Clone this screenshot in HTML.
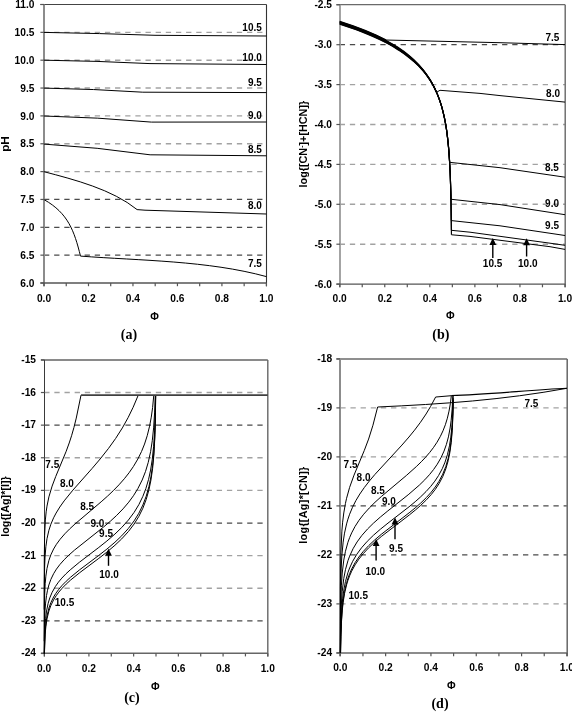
<!DOCTYPE html>
<html><head><meta charset="utf-8"><title>figure</title><style>html,body{margin:0;padding:0;background:#fff;overflow:hidden;}svg{display:block;filter:grayscale(1);}</style></head>
<body><svg width="572" height="712" viewBox="0 0 572 712">
<rect width="572" height="712" fill="#fff"/>
<line x1="44.00" y1="255.15" x2="266.40" y2="255.15" stroke="#4a4a4a" stroke-width="1.25" stroke-dasharray="5.3,4.85"/>
<line x1="44.00" y1="227.30" x2="266.40" y2="227.30" stroke="#4a4a4a" stroke-width="1.25" stroke-dasharray="5.3,4.85"/>
<line x1="44.00" y1="199.45" x2="266.40" y2="199.45" stroke="#4a4a4a" stroke-width="1.25" stroke-dasharray="5.3,4.85"/>
<line x1="44.00" y1="171.60" x2="266.40" y2="171.60" stroke="#a2a2a2" stroke-width="1.4" stroke-dasharray="5.3,4.85"/>
<line x1="44.00" y1="143.75" x2="266.40" y2="143.75" stroke="#a2a2a2" stroke-width="1.4" stroke-dasharray="5.3,4.85"/>
<line x1="44.00" y1="115.90" x2="266.40" y2="115.90" stroke="#a2a2a2" stroke-width="1.4" stroke-dasharray="5.3,4.85"/>
<line x1="44.00" y1="88.05" x2="266.40" y2="88.05" stroke="#a2a2a2" stroke-width="1.4" stroke-dasharray="5.3,4.85"/>
<line x1="44.00" y1="60.20" x2="266.40" y2="60.20" stroke="#a2a2a2" stroke-width="1.4" stroke-dasharray="5.3,4.85"/>
<line x1="44.00" y1="32.35" x2="266.40" y2="32.35" stroke="#a2a2a2" stroke-width="1.4" stroke-dasharray="5.3,4.85"/>
<line x1="339.70" y1="244.20" x2="565.00" y2="244.20" stroke="#a2a2a2" stroke-width="1.4" stroke-dasharray="5.3,4.85"/>
<line x1="339.70" y1="204.30" x2="565.00" y2="204.30" stroke="#a2a2a2" stroke-width="1.4" stroke-dasharray="5.3,4.85"/>
<line x1="339.70" y1="164.40" x2="565.00" y2="164.40" stroke="#a2a2a2" stroke-width="1.4" stroke-dasharray="5.3,4.85"/>
<line x1="339.70" y1="124.50" x2="565.00" y2="124.50" stroke="#a2a2a2" stroke-width="1.4" stroke-dasharray="5.3,4.85"/>
<line x1="339.70" y1="84.60" x2="565.00" y2="84.60" stroke="#a2a2a2" stroke-width="1.4" stroke-dasharray="5.3,4.85"/>
<line x1="339.70" y1="44.70" x2="565.00" y2="44.70" stroke="#4a4a4a" stroke-width="1.25" stroke-dasharray="5.3,4.85"/>
<line x1="44.20" y1="620.86" x2="267.80" y2="620.86" stroke="#4a4a4a" stroke-width="1.25" stroke-dasharray="5.3,4.85"/>
<line x1="44.20" y1="588.24" x2="267.80" y2="588.24" stroke="#a2a2a2" stroke-width="1.4" stroke-dasharray="5.3,4.85"/>
<line x1="44.20" y1="555.62" x2="267.80" y2="555.62" stroke="#a2a2a2" stroke-width="1.4" stroke-dasharray="5.3,4.85"/>
<line x1="44.20" y1="523.00" x2="267.80" y2="523.00" stroke="#4a4a4a" stroke-width="1.25" stroke-dasharray="5.3,4.85"/>
<line x1="44.20" y1="490.38" x2="267.80" y2="490.38" stroke="#a2a2a2" stroke-width="1.4" stroke-dasharray="5.3,4.85"/>
<line x1="44.20" y1="457.76" x2="267.80" y2="457.76" stroke="#a2a2a2" stroke-width="1.4" stroke-dasharray="5.3,4.85"/>
<line x1="44.20" y1="425.14" x2="267.80" y2="425.14" stroke="#4a4a4a" stroke-width="1.25" stroke-dasharray="5.3,4.85"/>
<line x1="44.20" y1="392.52" x2="267.80" y2="392.52" stroke="#a2a2a2" stroke-width="1.4" stroke-dasharray="5.3,4.85"/>
<line x1="340.30" y1="603.90" x2="566.90" y2="603.90" stroke="#a2a2a2" stroke-width="1.4" stroke-dasharray="5.3,4.85"/>
<line x1="340.30" y1="554.90" x2="566.90" y2="554.90" stroke="#4a4a4a" stroke-width="1.25" stroke-dasharray="5.3,4.85"/>
<line x1="340.30" y1="505.90" x2="566.90" y2="505.90" stroke="#4a4a4a" stroke-width="1.25" stroke-dasharray="5.3,4.85"/>
<line x1="340.30" y1="456.90" x2="566.90" y2="456.90" stroke="#a2a2a2" stroke-width="1.4" stroke-dasharray="5.3,4.85"/>
<line x1="340.30" y1="407.90" x2="566.90" y2="407.90" stroke="#a2a2a2" stroke-width="1.4" stroke-dasharray="5.3,4.85"/>
<line x1="40.40" y1="4.50" x2="266.50" y2="4.50" stroke="#444" stroke-width="1.1" />
<line x1="266.50" y1="4.50" x2="266.50" y2="286.20" stroke="#333" stroke-width="1.1" />
<line x1="44.00" y1="4.50" x2="44.00" y2="286.20" stroke="#8c8c8c" stroke-width="2.0" />
<line x1="40.40" y1="283.00" x2="266.50" y2="283.00" stroke="#555" stroke-width="1.4" />
<line x1="40.40" y1="283.00" x2="44.00" y2="283.00" stroke="#555" stroke-width="1.2" />
<line x1="40.40" y1="255.15" x2="44.00" y2="255.15" stroke="#555" stroke-width="1.2" />
<line x1="40.40" y1="227.30" x2="44.00" y2="227.30" stroke="#555" stroke-width="1.2" />
<line x1="40.40" y1="199.45" x2="44.00" y2="199.45" stroke="#555" stroke-width="1.2" />
<line x1="40.40" y1="171.60" x2="44.00" y2="171.60" stroke="#555" stroke-width="1.2" />
<line x1="40.40" y1="143.75" x2="44.00" y2="143.75" stroke="#555" stroke-width="1.2" />
<line x1="40.40" y1="115.90" x2="44.00" y2="115.90" stroke="#555" stroke-width="1.2" />
<line x1="40.40" y1="88.05" x2="44.00" y2="88.05" stroke="#555" stroke-width="1.2" />
<line x1="40.40" y1="60.20" x2="44.00" y2="60.20" stroke="#555" stroke-width="1.2" />
<line x1="40.40" y1="32.35" x2="44.00" y2="32.35" stroke="#555" stroke-width="1.2" />
<line x1="40.40" y1="4.50" x2="44.00" y2="4.50" stroke="#555" stroke-width="1.2" />
<line x1="44.00" y1="283.00" x2="44.00" y2="286.20" stroke="#555" stroke-width="1.2" />
<line x1="66.24" y1="283.00" x2="66.24" y2="286.20" stroke="#555" stroke-width="1.2" />
<line x1="88.48" y1="283.00" x2="88.48" y2="286.20" stroke="#555" stroke-width="1.2" />
<line x1="110.72" y1="283.00" x2="110.72" y2="286.20" stroke="#555" stroke-width="1.2" />
<line x1="132.96" y1="283.00" x2="132.96" y2="286.20" stroke="#555" stroke-width="1.2" />
<line x1="155.20" y1="283.00" x2="155.20" y2="286.20" stroke="#555" stroke-width="1.2" />
<line x1="177.44" y1="283.00" x2="177.44" y2="286.20" stroke="#555" stroke-width="1.2" />
<line x1="199.68" y1="283.00" x2="199.68" y2="286.20" stroke="#555" stroke-width="1.2" />
<line x1="221.92" y1="283.00" x2="221.92" y2="286.20" stroke="#555" stroke-width="1.2" />
<line x1="244.16" y1="283.00" x2="244.16" y2="286.20" stroke="#555" stroke-width="1.2" />
<line x1="266.40" y1="283.00" x2="266.40" y2="286.20" stroke="#555" stroke-width="1.2" />
<line x1="336.40" y1="4.70" x2="565.20" y2="4.70" stroke="#6a6a6a" stroke-width="1.3" />
<line x1="565.20" y1="4.70" x2="565.20" y2="287.30" stroke="#666" stroke-width="1.4" />
<line x1="340.00" y1="4.70" x2="340.00" y2="287.30" stroke="#9a9a9a" stroke-width="1.8" />
<line x1="336.40" y1="284.10" x2="565.20" y2="284.10" stroke="#555" stroke-width="1.3" />
<line x1="336.40" y1="284.10" x2="340.00" y2="284.10" stroke="#555" stroke-width="1.2" />
<line x1="336.40" y1="244.20" x2="340.00" y2="244.20" stroke="#555" stroke-width="1.2" />
<line x1="336.40" y1="204.30" x2="340.00" y2="204.30" stroke="#555" stroke-width="1.2" />
<line x1="336.40" y1="164.40" x2="340.00" y2="164.40" stroke="#555" stroke-width="1.2" />
<line x1="336.40" y1="124.50" x2="340.00" y2="124.50" stroke="#555" stroke-width="1.2" />
<line x1="336.40" y1="84.60" x2="340.00" y2="84.60" stroke="#555" stroke-width="1.2" />
<line x1="336.40" y1="44.70" x2="340.00" y2="44.70" stroke="#555" stroke-width="1.2" />
<line x1="336.40" y1="4.80" x2="340.00" y2="4.80" stroke="#555" stroke-width="1.2" />
<line x1="339.70" y1="284.10" x2="339.70" y2="287.30" stroke="#555" stroke-width="1.2" />
<line x1="362.23" y1="284.10" x2="362.23" y2="287.30" stroke="#555" stroke-width="1.2" />
<line x1="384.76" y1="284.10" x2="384.76" y2="287.30" stroke="#555" stroke-width="1.2" />
<line x1="407.29" y1="284.10" x2="407.29" y2="287.30" stroke="#555" stroke-width="1.2" />
<line x1="429.82" y1="284.10" x2="429.82" y2="287.30" stroke="#555" stroke-width="1.2" />
<line x1="452.35" y1="284.10" x2="452.35" y2="287.30" stroke="#555" stroke-width="1.2" />
<line x1="474.88" y1="284.10" x2="474.88" y2="287.30" stroke="#555" stroke-width="1.2" />
<line x1="497.41" y1="284.10" x2="497.41" y2="287.30" stroke="#555" stroke-width="1.2" />
<line x1="519.94" y1="284.10" x2="519.94" y2="287.30" stroke="#555" stroke-width="1.2" />
<line x1="542.47" y1="284.10" x2="542.47" y2="287.30" stroke="#555" stroke-width="1.2" />
<line x1="565.00" y1="284.10" x2="565.00" y2="287.30" stroke="#555" stroke-width="1.2" />
<line x1="40.90" y1="360.00" x2="267.80" y2="360.00" stroke="#8a8a8a" stroke-width="1.8" />
<line x1="267.80" y1="360.00" x2="267.80" y2="656.40" stroke="#666" stroke-width="1.4" />
<line x1="44.50" y1="360.00" x2="44.50" y2="656.40" stroke="#3a3a3a" stroke-width="1.0" />
<line x1="40.90" y1="653.20" x2="267.80" y2="653.20" stroke="#666" stroke-width="1.4" />
<line x1="40.90" y1="653.48" x2="44.50" y2="653.48" stroke="#555" stroke-width="1.2" />
<line x1="40.90" y1="620.86" x2="44.50" y2="620.86" stroke="#555" stroke-width="1.2" />
<line x1="40.90" y1="588.24" x2="44.50" y2="588.24" stroke="#555" stroke-width="1.2" />
<line x1="40.90" y1="555.62" x2="44.50" y2="555.62" stroke="#555" stroke-width="1.2" />
<line x1="40.90" y1="523.00" x2="44.50" y2="523.00" stroke="#555" stroke-width="1.2" />
<line x1="40.90" y1="490.38" x2="44.50" y2="490.38" stroke="#555" stroke-width="1.2" />
<line x1="40.90" y1="457.76" x2="44.50" y2="457.76" stroke="#555" stroke-width="1.2" />
<line x1="40.90" y1="425.14" x2="44.50" y2="425.14" stroke="#555" stroke-width="1.2" />
<line x1="40.90" y1="392.52" x2="44.50" y2="392.52" stroke="#555" stroke-width="1.2" />
<line x1="40.90" y1="359.90" x2="44.50" y2="359.90" stroke="#555" stroke-width="1.2" />
<line x1="44.20" y1="653.20" x2="44.20" y2="656.40" stroke="#555" stroke-width="1.2" />
<line x1="66.56" y1="653.20" x2="66.56" y2="656.40" stroke="#555" stroke-width="1.2" />
<line x1="88.92" y1="653.20" x2="88.92" y2="656.40" stroke="#555" stroke-width="1.2" />
<line x1="111.28" y1="653.20" x2="111.28" y2="656.40" stroke="#555" stroke-width="1.2" />
<line x1="133.64" y1="653.20" x2="133.64" y2="656.40" stroke="#555" stroke-width="1.2" />
<line x1="156.00" y1="653.20" x2="156.00" y2="656.40" stroke="#555" stroke-width="1.2" />
<line x1="178.36" y1="653.20" x2="178.36" y2="656.40" stroke="#555" stroke-width="1.2" />
<line x1="200.72" y1="653.20" x2="200.72" y2="656.40" stroke="#555" stroke-width="1.2" />
<line x1="223.08" y1="653.20" x2="223.08" y2="656.40" stroke="#555" stroke-width="1.2" />
<line x1="245.44" y1="653.20" x2="245.44" y2="656.40" stroke="#555" stroke-width="1.2" />
<line x1="267.80" y1="653.20" x2="267.80" y2="656.40" stroke="#555" stroke-width="1.2" />
<line x1="336.40" y1="359.00" x2="567.20" y2="359.00" stroke="#6a6a6a" stroke-width="1.3" />
<line x1="567.20" y1="359.00" x2="567.20" y2="656.30" stroke="#666" stroke-width="1.5" />
<line x1="340.00" y1="359.00" x2="340.00" y2="656.30" stroke="#8c8c8c" stroke-width="2.0" />
<line x1="336.40" y1="653.10" x2="567.20" y2="653.10" stroke="#666" stroke-width="1.5" />
<line x1="336.40" y1="652.90" x2="340.00" y2="652.90" stroke="#555" stroke-width="1.2" />
<line x1="336.40" y1="603.90" x2="340.00" y2="603.90" stroke="#555" stroke-width="1.2" />
<line x1="336.40" y1="554.90" x2="340.00" y2="554.90" stroke="#555" stroke-width="1.2" />
<line x1="336.40" y1="505.90" x2="340.00" y2="505.90" stroke="#555" stroke-width="1.2" />
<line x1="336.40" y1="456.90" x2="340.00" y2="456.90" stroke="#555" stroke-width="1.2" />
<line x1="336.40" y1="407.90" x2="340.00" y2="407.90" stroke="#555" stroke-width="1.2" />
<line x1="336.40" y1="358.90" x2="340.00" y2="358.90" stroke="#555" stroke-width="1.2" />
<line x1="340.30" y1="653.10" x2="340.30" y2="656.30" stroke="#555" stroke-width="1.2" />
<line x1="362.96" y1="653.10" x2="362.96" y2="656.30" stroke="#555" stroke-width="1.2" />
<line x1="385.62" y1="653.10" x2="385.62" y2="656.30" stroke="#555" stroke-width="1.2" />
<line x1="408.28" y1="653.10" x2="408.28" y2="656.30" stroke="#555" stroke-width="1.2" />
<line x1="430.94" y1="653.10" x2="430.94" y2="656.30" stroke="#555" stroke-width="1.2" />
<line x1="453.60" y1="653.10" x2="453.60" y2="656.30" stroke="#555" stroke-width="1.2" />
<line x1="476.26" y1="653.10" x2="476.26" y2="656.30" stroke="#555" stroke-width="1.2" />
<line x1="498.92" y1="653.10" x2="498.92" y2="656.30" stroke="#555" stroke-width="1.2" />
<line x1="521.58" y1="653.10" x2="521.58" y2="656.30" stroke="#555" stroke-width="1.2" />
<line x1="544.24" y1="653.10" x2="544.24" y2="656.30" stroke="#555" stroke-width="1.2" />
<line x1="566.90" y1="653.10" x2="566.90" y2="656.30" stroke="#555" stroke-width="1.2" />
<path d="M44.00,32.40 Q99.51,33.32 155.00,35.30 L266.40,36.00" fill="none" stroke="#000" stroke-width="1.0" stroke-linejoin="round"/>
<path d="M44.00,60.20 Q97.03,60.91 150.00,63.60 L266.40,64.50" fill="none" stroke="#000" stroke-width="1.0" stroke-linejoin="round"/>
<path d="M44.00,88.10 Q93.45,88.92 142.80,92.20 L266.40,92.60" fill="none" stroke="#000" stroke-width="1.0" stroke-linejoin="round"/>
<path d="M44.00,116.00 Q97.80,117.29 151.40,122.10 L266.40,122.00" fill="none" stroke="#000" stroke-width="1.0" stroke-linejoin="round"/>
<path d="M44.00,144.10 Q97.28,147.17 150.10,154.80 L266.40,155.80" fill="none" stroke="#000" stroke-width="1.0" stroke-linejoin="round"/>
<path d="M44.00,171.70 C74.48,179.70 112.18,189.37 137.10,209.60 L145.00,210.20 L266.40,214.00" fill="none" stroke="#000" stroke-width="1.0" stroke-linejoin="round"/>
<path d="M44.20,199.70 C68.14,213.22 74.25,230.96 80.50,256.10 C139.90,260.65 207.94,260.55 266.40,276.60" fill="none" stroke="#000" stroke-width="1.0" stroke-linejoin="round"/>
<path d="M339.70,21.40 L353.12,25.82 L364.97,30.26 L376.03,34.99 L386.29,40.04" fill="none" stroke="#000" stroke-width="1.15" stroke-linejoin="round"/>
<path d="M386.29,40.04 L500.00,42.70 L565.00,44.60" fill="none" stroke="#000" stroke-width="1.0" stroke-linejoin="round"/>
<path d="M339.70,21.88 L349.55,25.07 L359.41,28.59 L367.62,31.82 L375.83,35.38 L384.04,39.35 L390.61,42.89 L397.18,46.84 L403.75,51.29 L408.68,55.09 L413.61,59.45 L418.54,64.39 L423.46,70.11 L426.75,74.49 L430.03,79.48 L433.32,85.28 L436.60,92.21" fill="none" stroke="#000" stroke-width="1.15" stroke-linejoin="round"/>
<path d="M436.60,92.21 L440.00,90.30 L480.00,93.40 L500.00,95.60 L565.00,102.10" fill="none" stroke="#000" stroke-width="1.0" stroke-linejoin="round"/>
<path d="M339.70,22.36 L354.07,27.11 L368.43,32.63 L379.93,37.78 L391.42,43.83 L397.17,47.31 L401.48,50.16 L405.79,53.27 L410.10,56.73 L417.28,63.41 L421.59,68.11 L424.47,71.63 L427.34,75.54 L430.21,79.93 L434.52,87.76 L437.40,94.16 L438.83,97.85 L441.85,107.16 L444.63,118.68 L446.65,130.42 L448.43,145.59 L449.67,162.33" fill="none" stroke="#000" stroke-width="1.15" stroke-linejoin="round"/>
<path d="M449.67,162.33 L500.00,167.70 L565.00,177.20" fill="none" stroke="#000" stroke-width="1.0" stroke-linejoin="round"/>
<path d="M339.70,22.83 L356.94,28.63 L371.31,34.33 L378.49,37.57 L385.67,41.15 L391.42,44.31 L397.17,47.79 L402.91,51.65 L407.22,54.85 L411.53,58.39 L415.84,62.33 L420.15,66.77 L423.03,70.08 L427.34,75.73 L430.21,80.09 L433.09,85.07 L435.96,90.89 L439.81,100.63 L441.74,106.79 L443.14,112.05 L445.74,124.62 L446.89,132.11 L447.93,140.59 L449.36,157.23 L450.36,176.88 L450.99,199.27" fill="none" stroke="#000" stroke-width="1.15" stroke-linejoin="round"/>
<path d="M450.99,199.27 L500.00,204.60 L565.00,214.70" fill="none" stroke="#000" stroke-width="1.0" stroke-linejoin="round"/>
<path d="M339.70,23.31 L356.94,29.11 L365.56,32.41 L372.74,35.43 L379.93,38.74 L387.11,42.40 L392.86,45.63 L398.60,49.19 L404.35,53.16 L408.66,56.45 L412.97,60.05 L417.28,64.08 L421.59,68.66 L424.47,72.10 L428.78,78.02 L431.65,82.62 L434.52,87.95 L437.40,94.26 L440.83,103.76 L442.78,110.62 L444.18,116.54 L445.50,123.25 L446.72,130.88 L448.49,146.23 L449.87,165.97 L450.81,191.39 L451.30,220.58" fill="none" stroke="#000" stroke-width="1.15" stroke-linejoin="round"/>
<path d="M451.30,220.58 L500.00,225.80 L565.00,235.50" fill="none" stroke="#000" stroke-width="1.0" stroke-linejoin="round"/>
<path d="M339.70,23.79 L356.94,29.59 L365.56,32.89 L372.74,35.91 L379.93,39.22 L387.11,42.88 L392.86,46.11 L398.60,49.67 L404.35,53.64 L410.10,58.05 L414.41,61.72 L418.72,65.86 L423.03,70.59 L425.90,74.17 L430.21,80.39 L433.09,85.29 L437.40,94.31 L439.84,100.76 L441.84,107.13 L444.67,118.89 L445.97,125.99 L447.16,134.13 L448.87,150.67 L450.18,172.44 L450.90,195.09 L451.39,230.31" fill="none" stroke="#000" stroke-width="1.15" stroke-linejoin="round"/>
<path d="M451.39,230.31 L470.00,232.20 L550.00,243.20 L565.00,245.30" fill="none" stroke="#000" stroke-width="1.0" stroke-linejoin="round"/>
<path d="M339.70,24.27 L356.94,30.07 L365.56,33.37 L372.74,36.39 L379.93,39.70 L387.11,43.35 L392.86,46.58 L398.60,50.15 L404.35,54.12 L410.10,58.49 L414.41,62.10 L418.72,66.17 L423.03,70.85 L425.90,74.39 L430.21,80.55 L433.09,85.41 L437.40,94.37 L439.85,100.79 L441.85,107.16 L443.77,114.70 L445.13,121.25 L446.40,128.72 L447.56,137.31 L449.20,154.92 L450.21,173.16 L450.93,196.58 L451.43,234.78" fill="none" stroke="#000" stroke-width="1.15" stroke-linejoin="round"/>
<path d="M451.43,234.78 L470.00,236.40 L550.00,246.70 L565.00,249.40" fill="none" stroke="#000" stroke-width="1.0" stroke-linejoin="round"/>
<line x1="492.80" y1="242.90" x2="492.80" y2="257.90" stroke="#000" stroke-width="1.4" />
<path d="M492.8,237.9 L489.40000000000003,244.9 L496.2,244.9 Z" fill="#000"/>
<line x1="526.60" y1="243.30" x2="526.60" y2="256.50" stroke="#000" stroke-width="1.4" />
<path d="M526.6,238.3 L523.2,245.3 L530.0,245.3 Z" fill="#000"/>
<path d="M44.20,609.59 L44.27,560.31 L44.61,535.45 L45.37,519.98 L46.17,511.85 L46.99,506.14 L48.90,496.88 L52.12,486.09 L55.76,476.45 L66.19,451.25 L69.21,442.97 L71.57,435.75 L73.92,427.56 L76.28,418.09 L81.03,395.13" fill="none" stroke="#000" stroke-width="1.0" stroke-linejoin="round"/>
<path d="M44.20,641.23 L44.35,582.04 L44.61,567.12 L45.03,557.04 L45.86,546.74 L46.99,538.73 L48.90,530.29 L50.85,524.27 L53.62,517.78 L56.10,513.05 L59.80,507.04 L64.17,500.89 L72.91,490.12 L92.08,468.46 L100.15,458.99 L108.56,448.35 L115.62,438.49 L122.35,427.94 L128.06,417.71 L133.11,407.32 L138.27,395.13" fill="none" stroke="#000" stroke-width="1.0" stroke-linejoin="round"/>
<path d="M44.21,653.48 L44.41,606.17 L44.69,593.76 L45.18,583.76 L45.86,576.15 L46.99,568.41 L48.90,560.40 L50.85,554.84 L53.62,548.98 L56.43,544.30 L60.13,539.24 L64.84,533.81 L69.55,529.04 L74.93,524.06 L101.16,501.81 L107.55,496.11 L113.27,490.68 L118.98,484.82 L124.37,478.72 L129.07,472.75 L133.45,466.44 L137.82,459.07 L141.52,451.56 L144.54,444.05 L147.23,435.70 L149.59,426.18 L151.27,417.14 L152.61,407.47 L153.79,395.13" fill="none" stroke="#000" stroke-width="1.0" stroke-linejoin="round"/>
<path d="M44.24,653.48 L44.61,620.59 L45.03,610.63 L45.59,603.08 L46.54,595.43 L47.52,590.23 L48.90,584.92 L50.85,579.43 L53.62,573.69 L56.43,569.14 L59.80,564.64 L64.17,559.71 L68.88,555.09 L74.59,550.05 L103.52,527.04 L110.58,521.02 L116.63,515.43 L123.02,508.88 L128.74,502.17 L133.45,495.75 L137.82,488.70 L142.19,479.98 L145.55,471.37 L148.24,462.38 L150.60,451.66 L152.28,440.76 L153.62,427.88 L154.63,412.09 L155.24,395.13" fill="none" stroke="#000" stroke-width="1.0" stroke-linejoin="round"/>
<path d="M44.32,653.48 L44.89,628.77 L45.59,618.73 L46.54,611.09 L48.15,603.27 L49.79,597.90 L52.12,592.33 L55.41,586.46 L58.45,582.16 L61.81,578.13 L65.85,573.92 L70.22,569.86 L79.30,562.33 L98.81,547.44 L106.88,541.03 L114.95,534.05 L121.68,527.54 L128.40,520.02 L134.12,512.36 L138.83,504.65 L142.86,496.35 L145.89,488.48 L148.58,479.34 L150.60,470.08 L152.28,459.29 L153.62,446.40 L154.63,430.62 L155.31,411.35 L155.60,395.13" fill="none" stroke="#000" stroke-width="1.0" stroke-linejoin="round"/>
<path d="M44.41,653.48 L44.69,641.24 L45.18,631.26 L45.86,623.70 L46.99,616.01 L48.90,608.12 L50.85,602.67 L53.62,596.98 L55.76,593.47 L58.79,589.29 L62.15,585.35 L66.19,581.22 L70.56,577.22 L79.64,569.80 L98.81,555.39 L106.88,549.08 L114.95,542.23 L121.68,535.83 L128.40,528.42 L134.12,520.87 L138.83,513.24 L142.86,505.03 L146.23,496.15 L148.92,486.63 L150.93,476.85 L152.61,465.20 L153.62,455.04 L154.63,439.25 L155.31,419.98 L155.67,395.13" fill="none" stroke="#000" stroke-width="1.0" stroke-linejoin="round"/>
<path d="M44.45,653.48 L45.18,634.10 L45.86,626.54 L46.99,618.85 L48.90,610.96 L50.85,605.51 L53.62,599.83 L56.10,595.82 L58.79,592.16 L62.15,588.22 L66.19,584.09 L70.56,580.10 L79.64,572.72 L98.81,558.37 L106.88,552.10 L114.95,545.28 L121.68,538.91 L128.40,531.54 L134.12,524.02 L138.83,516.43 L142.86,508.24 L146.23,499.38 L148.92,489.88 L150.93,480.11 L152.61,468.46 L153.96,453.93 L154.97,434.47 L155.31,423.24 L155.68,395.13" fill="none" stroke="#000" stroke-width="1.0" stroke-linejoin="round"/>
<path d="M81.03,395.13 L267.80,395.13" fill="none" stroke="#404040" stroke-width="1.6" stroke-linejoin="round"/>
<line x1="108.50" y1="553.80" x2="108.50" y2="565.80" stroke="#000" stroke-width="1.4" />
<path d="M108.5,548.8 L105.1,555.8 L111.9,555.8 Z" fill="#000"/>
<path d="M340.31,652.90 L340.42,586.66 L340.89,552.79 L341.88,531.11 L342.64,522.18 L343.78,512.97 L345.46,503.33 L346.58,498.27 L349.62,487.39 L354.02,475.14 L364.26,450.55 L368.60,439.07 L372.94,425.24 L377.63,407.00" fill="none" stroke="#000" stroke-width="1.0" stroke-linejoin="round"/>
<path d="M340.32,652.90 L340.63,589.32 L341.17,568.10 L341.88,555.22 L343.15,542.10 L344.53,533.14 L346.58,523.90 L347.95,519.13 L349.62,514.22 L352.52,507.24 L355.89,500.59 L359.82,494.04 L364.31,487.55 L369.36,481.03 L374.98,474.39 L401.93,445.09 L408.95,437.04 L414.57,430.15 L420.47,422.29 L426.08,413.97 L430.57,406.47 L435.63,397.02" fill="none" stroke="#000" stroke-width="1.0" stroke-linejoin="round"/>
<path d="M340.35,652.90 L340.78,602.75 L341.36,585.82 L342.22,573.02 L343.78,560.05 L345.46,551.25 L347.95,542.24 L349.62,537.62 L351.66,532.90 L355.01,526.52 L359.01,520.31 L363.68,514.24 L369.35,507.91 L375.01,502.29 L381.35,496.52 L406.35,475.50 L416.35,466.57 L421.36,461.70 L425.69,457.11 L429.69,452.46 L433.36,447.69 L437.03,442.24 L440.36,436.39 L443.03,430.76 L445.36,424.73 L447.36,418.19 L449.03,411.12 L450.36,403.52 L451.36,395.46" fill="none" stroke="#000" stroke-width="1.0" stroke-linejoin="round"/>
<path d="M340.41,652.90 L340.89,616.82 L341.36,604.12 L342.22,591.34 L343.78,578.42 L345.46,569.67 L347.95,560.74 L349.62,556.17 L353.03,548.78 L357.09,541.94 L361.82,535.49 L367.58,528.96 L373.33,523.28 L380.43,516.99 L387.87,510.88 L408.17,494.80 L419.33,485.13 L424.75,479.83 L429.48,474.65 L433.54,469.60 L437.26,464.23 L440.99,457.74 L444.03,451.08 L446.40,444.43 L448.43,436.88 L450.12,428.05 L451.13,420.52 L452.15,409.04 L452.83,395.55" fill="none" stroke="#000" stroke-width="1.0" stroke-linejoin="round"/>
<path d="M340.49,652.90 L340.78,632.78 L341.17,620.11 L341.88,607.37 L342.64,598.82 L343.78,590.19 L345.46,581.46 L347.95,572.55 L349.62,568.00 L352.69,561.28 L356.77,554.32 L361.52,547.82 L367.29,541.27 L373.40,535.31 L380.53,529.11 L388.00,523.10 L409.05,506.79 L415.16,501.74 L420.26,497.23 L426.03,491.59 L430.78,486.33 L434.86,481.12 L438.59,475.49 L442.33,468.56 L445.04,462.13 L447.42,454.73 L449.46,445.82 L450.81,437.10 L451.83,427.22 L452.51,416.78 L453.19,395.87" fill="none" stroke="#000" stroke-width="1.0" stroke-linejoin="round"/>
<path d="M340.55,652.90 L340.89,634.19 L341.36,621.50 L342.22,608.73 L343.15,600.15 L344.53,591.48 L346.58,582.68 L347.95,578.20 L349.62,573.66 L351.66,569.03 L355.07,562.70 L358.81,557.07 L363.23,551.49 L368.66,545.63 L374.44,540.17 L381.23,534.37 L409.09,512.87 L415.21,507.88 L420.65,503.11 L426.42,497.50 L431.18,492.24 L435.26,487.01 L438.99,481.31 L442.73,474.21 L445.79,466.53 L448.17,458.32 L449.87,450.00 L451.22,440.11 L452.24,427.99 L452.92,413.07 L453.26,398.17" fill="none" stroke="#000" stroke-width="1.0" stroke-linejoin="round"/>
<path d="M340.57,652.90 L340.89,636.32 L341.36,623.63 L342.22,610.87 L343.15,602.29 L344.53,593.62 L346.58,584.82 L347.95,580.34 L349.62,575.80 L351.66,571.18 L355.07,564.85 L358.81,559.23 L363.23,553.65 L368.67,547.80 L374.44,542.35 L381.24,536.57 L409.44,514.87 L415.56,509.89 L420.66,505.43 L426.43,499.84 L431.19,494.59 L435.27,489.38 L439.01,483.70 L442.74,476.61 L445.80,468.93 L448.18,460.71 L449.88,452.37 L451.24,442.44 L452.26,430.22 L452.94,415.07 L453.28,399.71" fill="none" stroke="#000" stroke-width="1.0" stroke-linejoin="round"/>
<path d="M377.63,407.00 C442.55,404.05 502.98,400.06 566.90,388.30" fill="none" stroke="#000" stroke-width="1.0" stroke-linejoin="round"/>
<path d="M435.63,397.02 L451.40,395.70" fill="none" stroke="#000" stroke-width="1.0" stroke-linejoin="round"/>
<path d="M451.40,395.50 C489.98,394.58 528.38,390.01 566.90,388.30" fill="none" stroke="#000" stroke-width="1.1" stroke-linejoin="round"/>
<line x1="395.00" y1="522.50" x2="395.00" y2="539.20" stroke="#000" stroke-width="1.4" />
<path d="M395.0,517.5 L391.6,524.5 L398.4,524.5 Z" fill="#000"/>
<line x1="376.10" y1="544.10" x2="376.10" y2="560.50" stroke="#000" stroke-width="1.4" />
<path d="M376.1,539.1 L372.70000000000005,546.1 L379.5,546.1 Z" fill="#000"/>
<text x="34.40" y="286.70" font-family='"Liberation Sans", sans-serif' font-size="10.2" font-weight="bold" text-anchor="end">6.0</text>
<text x="34.40" y="258.85" font-family='"Liberation Sans", sans-serif' font-size="10.2" font-weight="bold" text-anchor="end">6.5</text>
<text x="34.40" y="231.00" font-family='"Liberation Sans", sans-serif' font-size="10.2" font-weight="bold" text-anchor="end">7.0</text>
<text x="34.40" y="203.15" font-family='"Liberation Sans", sans-serif' font-size="10.2" font-weight="bold" text-anchor="end">7.5</text>
<text x="34.40" y="175.30" font-family='"Liberation Sans", sans-serif' font-size="10.2" font-weight="bold" text-anchor="end">8.0</text>
<text x="34.40" y="147.45" font-family='"Liberation Sans", sans-serif' font-size="10.2" font-weight="bold" text-anchor="end">8.5</text>
<text x="34.40" y="119.60" font-family='"Liberation Sans", sans-serif' font-size="10.2" font-weight="bold" text-anchor="end">9.0</text>
<text x="34.40" y="91.75" font-family='"Liberation Sans", sans-serif' font-size="10.2" font-weight="bold" text-anchor="end">9.5</text>
<text x="34.40" y="63.90" font-family='"Liberation Sans", sans-serif' font-size="10.2" font-weight="bold" text-anchor="end">10.0</text>
<text x="34.40" y="36.05" font-family='"Liberation Sans", sans-serif' font-size="10.2" font-weight="bold" text-anchor="end">10.5</text>
<text x="34.40" y="8.20" font-family='"Liberation Sans", sans-serif' font-size="10.2" font-weight="bold" text-anchor="end">11.0</text>
<text x="44.00" y="301.60" font-family='"Liberation Sans", sans-serif' font-size="10.2" font-weight="bold" text-anchor="middle">0.0</text>
<text x="88.48" y="301.60" font-family='"Liberation Sans", sans-serif' font-size="10.2" font-weight="bold" text-anchor="middle">0.2</text>
<text x="132.96" y="301.60" font-family='"Liberation Sans", sans-serif' font-size="10.2" font-weight="bold" text-anchor="middle">0.4</text>
<text x="177.44" y="301.60" font-family='"Liberation Sans", sans-serif' font-size="10.2" font-weight="bold" text-anchor="middle">0.6</text>
<text x="221.92" y="301.60" font-family='"Liberation Sans", sans-serif' font-size="10.2" font-weight="bold" text-anchor="middle">0.8</text>
<text x="266.40" y="301.60" font-family='"Liberation Sans", sans-serif' font-size="10.2" font-weight="bold" text-anchor="middle">1.0</text>
<text x="261.80" y="30.90" font-family='"Liberation Sans", sans-serif' font-size="10" font-weight="bold" text-anchor="end">10.5</text>
<text x="261.80" y="60.90" font-family='"Liberation Sans", sans-serif' font-size="10" font-weight="bold" text-anchor="end">10.0</text>
<text x="261.80" y="86.10" font-family='"Liberation Sans", sans-serif' font-size="10" font-weight="bold" text-anchor="end">9.5</text>
<text x="261.80" y="119.30" font-family='"Liberation Sans", sans-serif' font-size="10" font-weight="bold" text-anchor="end">9.0</text>
<text x="261.80" y="152.90" font-family='"Liberation Sans", sans-serif' font-size="10" font-weight="bold" text-anchor="end">8.5</text>
<text x="261.80" y="208.50" font-family='"Liberation Sans", sans-serif' font-size="10" font-weight="bold" text-anchor="end">8.0</text>
<text x="261.80" y="266.70" font-family='"Liberation Sans", sans-serif' font-size="10" font-weight="bold" text-anchor="end">7.5</text>
<text transform="translate(9.20,144.00) rotate(-90)" font-family='"Liberation Sans", sans-serif' font-size="11.8" font-weight="bold" text-anchor="middle">pH</text>
<text x="154.50" y="319.60" font-family='"Liberation Sans", sans-serif' font-size="10.5" font-weight="bold" text-anchor="middle">Φ</text>
<text x="128.90" y="338.60" font-family='"Liberation Serif", serif' font-size="14" font-weight="bold" text-anchor="middle">(a)</text>
<text x="332.00" y="287.50" font-family='"Liberation Sans", sans-serif' font-size="10.2" font-weight="bold" text-anchor="end">-6.0</text>
<text x="332.00" y="247.60" font-family='"Liberation Sans", sans-serif' font-size="10.2" font-weight="bold" text-anchor="end">-5.5</text>
<text x="332.00" y="207.70" font-family='"Liberation Sans", sans-serif' font-size="10.2" font-weight="bold" text-anchor="end">-5.0</text>
<text x="332.00" y="167.80" font-family='"Liberation Sans", sans-serif' font-size="10.2" font-weight="bold" text-anchor="end">-4.5</text>
<text x="332.00" y="127.90" font-family='"Liberation Sans", sans-serif' font-size="10.2" font-weight="bold" text-anchor="end">-4.0</text>
<text x="332.00" y="88.00" font-family='"Liberation Sans", sans-serif' font-size="10.2" font-weight="bold" text-anchor="end">-3.5</text>
<text x="332.00" y="48.10" font-family='"Liberation Sans", sans-serif' font-size="10.2" font-weight="bold" text-anchor="end">-3.0</text>
<text x="332.00" y="8.20" font-family='"Liberation Sans", sans-serif' font-size="10.2" font-weight="bold" text-anchor="end">-2.5</text>
<text x="339.70" y="301.60" font-family='"Liberation Sans", sans-serif' font-size="10.2" font-weight="bold" text-anchor="middle">0.0</text>
<text x="384.76" y="301.60" font-family='"Liberation Sans", sans-serif' font-size="10.2" font-weight="bold" text-anchor="middle">0.2</text>
<text x="429.82" y="301.60" font-family='"Liberation Sans", sans-serif' font-size="10.2" font-weight="bold" text-anchor="middle">0.4</text>
<text x="474.88" y="301.60" font-family='"Liberation Sans", sans-serif' font-size="10.2" font-weight="bold" text-anchor="middle">0.6</text>
<text x="519.94" y="301.60" font-family='"Liberation Sans", sans-serif' font-size="10.2" font-weight="bold" text-anchor="middle">0.8</text>
<text x="565.00" y="301.60" font-family='"Liberation Sans", sans-serif' font-size="10.2" font-weight="bold" text-anchor="middle">1.0</text>
<text x="559.40" y="40.80" font-family='"Liberation Sans", sans-serif' font-size="10" font-weight="bold" text-anchor="end">7.5</text>
<text x="560.00" y="97.10" font-family='"Liberation Sans", sans-serif' font-size="10" font-weight="bold" text-anchor="end">8.0</text>
<text x="558.80" y="170.80" font-family='"Liberation Sans", sans-serif' font-size="10" font-weight="bold" text-anchor="end">8.5</text>
<text x="559.00" y="206.50" font-family='"Liberation Sans", sans-serif' font-size="10" font-weight="bold" text-anchor="end">9.0</text>
<text x="559.00" y="229.00" font-family='"Liberation Sans", sans-serif' font-size="10" font-weight="bold" text-anchor="end">9.5</text>
<text x="492.60" y="267.20" font-family='"Liberation Sans", sans-serif' font-size="10" font-weight="bold" text-anchor="middle">10.5</text>
<text x="527.80" y="267.20" font-family='"Liberation Sans", sans-serif' font-size="10" font-weight="bold" text-anchor="middle">10.0</text>
<text transform="translate(306.80,144.10) rotate(-90)" font-family='"Liberation Sans", sans-serif' font-size="10.8" font-weight="bold" text-anchor="middle">log{[CN<tspan dy="-3" font-size="7">-</tspan><tspan dy="3">]+[HCN]}</tspan></text>
<text x="450.40" y="319.10" font-family='"Liberation Sans", sans-serif' font-size="10.5" font-weight="bold" text-anchor="middle">Φ</text>
<text x="440.90" y="339.20" font-family='"Liberation Serif", serif' font-size="14" font-weight="bold" text-anchor="middle">(b)</text>
<text x="36.00" y="656.48" font-family='"Liberation Sans", sans-serif' font-size="10.2" font-weight="bold" text-anchor="end">-24</text>
<text x="36.00" y="623.86" font-family='"Liberation Sans", sans-serif' font-size="10.2" font-weight="bold" text-anchor="end">-23</text>
<text x="36.00" y="591.24" font-family='"Liberation Sans", sans-serif' font-size="10.2" font-weight="bold" text-anchor="end">-22</text>
<text x="36.00" y="558.62" font-family='"Liberation Sans", sans-serif' font-size="10.2" font-weight="bold" text-anchor="end">-21</text>
<text x="36.00" y="526.00" font-family='"Liberation Sans", sans-serif' font-size="10.2" font-weight="bold" text-anchor="end">-20</text>
<text x="36.00" y="493.38" font-family='"Liberation Sans", sans-serif' font-size="10.2" font-weight="bold" text-anchor="end">-19</text>
<text x="36.00" y="460.76" font-family='"Liberation Sans", sans-serif' font-size="10.2" font-weight="bold" text-anchor="end">-18</text>
<text x="36.00" y="428.14" font-family='"Liberation Sans", sans-serif' font-size="10.2" font-weight="bold" text-anchor="end">-17</text>
<text x="36.00" y="395.52" font-family='"Liberation Sans", sans-serif' font-size="10.2" font-weight="bold" text-anchor="end">-16</text>
<text x="36.00" y="362.90" font-family='"Liberation Sans", sans-serif' font-size="10.2" font-weight="bold" text-anchor="end">-15</text>
<text x="44.20" y="671.60" font-family='"Liberation Sans", sans-serif' font-size="10.2" font-weight="bold" text-anchor="middle">0.0</text>
<text x="88.92" y="671.60" font-family='"Liberation Sans", sans-serif' font-size="10.2" font-weight="bold" text-anchor="middle">0.2</text>
<text x="133.64" y="671.60" font-family='"Liberation Sans", sans-serif' font-size="10.2" font-weight="bold" text-anchor="middle">0.4</text>
<text x="178.36" y="671.60" font-family='"Liberation Sans", sans-serif' font-size="10.2" font-weight="bold" text-anchor="middle">0.6</text>
<text x="223.08" y="671.60" font-family='"Liberation Sans", sans-serif' font-size="10.2" font-weight="bold" text-anchor="middle">0.8</text>
<text x="267.80" y="671.60" font-family='"Liberation Sans", sans-serif' font-size="10.2" font-weight="bold" text-anchor="middle">1.0</text>
<text x="45.30" y="468.10" font-family='"Liberation Sans", sans-serif' font-size="10" font-weight="bold" text-anchor="start">7.5</text>
<text x="60.00" y="487.40" font-family='"Liberation Sans", sans-serif' font-size="10" font-weight="bold" text-anchor="start">8.0</text>
<text x="80.20" y="509.80" font-family='"Liberation Sans", sans-serif' font-size="10" font-weight="bold" text-anchor="start">8.5</text>
<text x="90.40" y="526.60" font-family='"Liberation Sans", sans-serif' font-size="10" font-weight="bold" text-anchor="start">9.0</text>
<text x="99.10" y="537.00" font-family='"Liberation Sans", sans-serif' font-size="10" font-weight="bold" text-anchor="start">9.5</text>
<text x="109.00" y="578.00" font-family='"Liberation Sans", sans-serif' font-size="10" font-weight="bold" text-anchor="middle">10.0</text>
<text x="54.80" y="606.00" font-family='"Liberation Sans", sans-serif' font-size="10" font-weight="bold" text-anchor="start">10.5</text>
<text transform="translate(8.60,506.50) rotate(-90)" font-family='"Liberation Sans", sans-serif' font-size="10.8" font-weight="bold" text-anchor="middle">log{[Ag]*[I]}</text>
<text x="155.20" y="689.60" font-family='"Liberation Sans", sans-serif' font-size="10.5" font-weight="bold" text-anchor="middle">Φ</text>
<text x="131.90" y="702.30" font-family='"Liberation Serif", serif' font-size="14" font-weight="bold" text-anchor="middle">(c)</text>
<text x="332.10" y="655.90" font-family='"Liberation Sans", sans-serif' font-size="10.2" font-weight="bold" text-anchor="end">-24</text>
<text x="332.10" y="606.90" font-family='"Liberation Sans", sans-serif' font-size="10.2" font-weight="bold" text-anchor="end">-23</text>
<text x="332.10" y="557.90" font-family='"Liberation Sans", sans-serif' font-size="10.2" font-weight="bold" text-anchor="end">-22</text>
<text x="332.10" y="508.90" font-family='"Liberation Sans", sans-serif' font-size="10.2" font-weight="bold" text-anchor="end">-21</text>
<text x="332.10" y="459.90" font-family='"Liberation Sans", sans-serif' font-size="10.2" font-weight="bold" text-anchor="end">-20</text>
<text x="332.10" y="410.90" font-family='"Liberation Sans", sans-serif' font-size="10.2" font-weight="bold" text-anchor="end">-19</text>
<text x="332.10" y="361.90" font-family='"Liberation Sans", sans-serif' font-size="10.2" font-weight="bold" text-anchor="end">-18</text>
<text x="340.30" y="671.10" font-family='"Liberation Sans", sans-serif' font-size="10.2" font-weight="bold" text-anchor="middle">0.0</text>
<text x="385.62" y="671.10" font-family='"Liberation Sans", sans-serif' font-size="10.2" font-weight="bold" text-anchor="middle">0.2</text>
<text x="430.94" y="671.10" font-family='"Liberation Sans", sans-serif' font-size="10.2" font-weight="bold" text-anchor="middle">0.4</text>
<text x="476.26" y="671.10" font-family='"Liberation Sans", sans-serif' font-size="10.2" font-weight="bold" text-anchor="middle">0.6</text>
<text x="521.58" y="671.10" font-family='"Liberation Sans", sans-serif' font-size="10.2" font-weight="bold" text-anchor="middle">0.8</text>
<text x="566.90" y="671.10" font-family='"Liberation Sans", sans-serif' font-size="10.2" font-weight="bold" text-anchor="middle">1.0</text>
<text x="343.60" y="467.80" font-family='"Liberation Sans", sans-serif' font-size="10" font-weight="bold" text-anchor="start">7.5</text>
<text x="356.60" y="481.00" font-family='"Liberation Sans", sans-serif' font-size="10" font-weight="bold" text-anchor="start">8.0</text>
<text x="370.90" y="493.60" font-family='"Liberation Sans", sans-serif' font-size="10" font-weight="bold" text-anchor="start">8.5</text>
<text x="382.00" y="504.50" font-family='"Liberation Sans", sans-serif' font-size="10" font-weight="bold" text-anchor="start">9.0</text>
<text x="389.10" y="552.40" font-family='"Liberation Sans", sans-serif' font-size="10" font-weight="bold" text-anchor="start">9.5</text>
<text x="524.40" y="406.90" font-family='"Liberation Sans", sans-serif' font-size="10" font-weight="bold" text-anchor="start">7.5</text>
<text x="375.30" y="574.50" font-family='"Liberation Sans", sans-serif' font-size="10" font-weight="bold" text-anchor="middle">10.0</text>
<text x="348.50" y="599.20" font-family='"Liberation Sans", sans-serif' font-size="10" font-weight="bold" text-anchor="start">10.5</text>
<text transform="translate(306.90,505.20) rotate(-90)" font-family='"Liberation Sans", sans-serif' font-size="10.8" font-weight="bold" text-anchor="middle" textLength="77" lengthAdjust="spacing">log{[Ag]*[CN]}</text>
<text x="451.40" y="689.10" font-family='"Liberation Sans", sans-serif' font-size="10.5" font-weight="bold" text-anchor="middle">Φ</text>
<text x="440.00" y="708.10" font-family='"Liberation Serif", serif' font-size="14" font-weight="bold" text-anchor="middle">(d)</text>
</svg></body></html>
